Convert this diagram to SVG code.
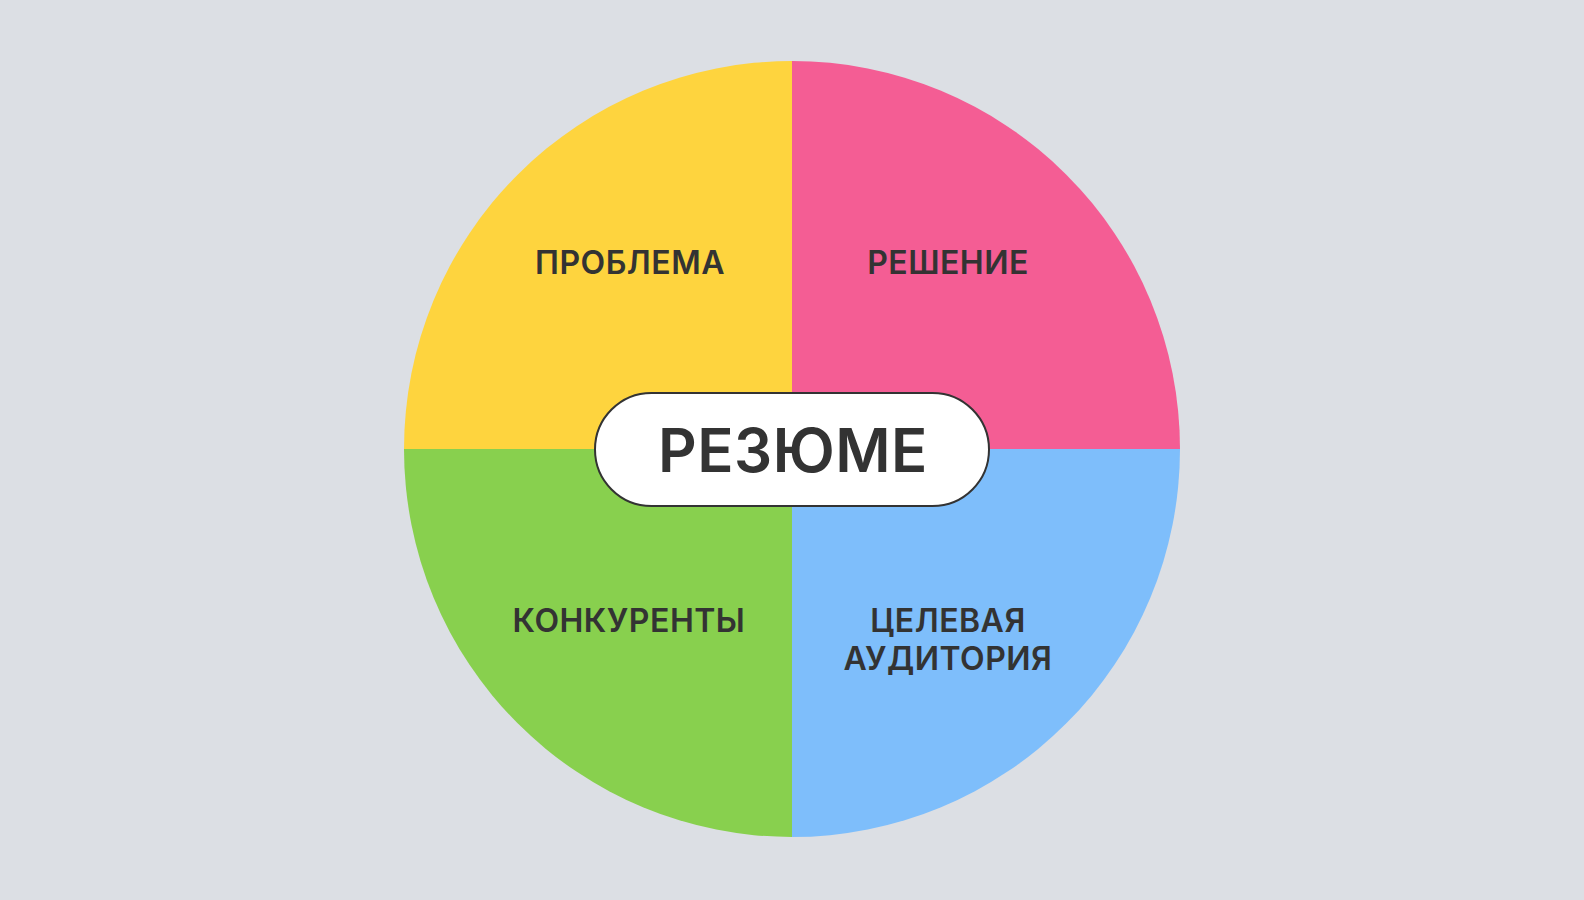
<svg xmlns="http://www.w3.org/2000/svg" width="1584" height="900" viewBox="0 0 1584 900">
<style>
.lbl{font-family:Inter,"Noto Sans","DejaVu Sans",sans-serif;font-weight:600;fill:#333333;text-anchor:middle}
.q{font-size:32px;letter-spacing:0.5px}
.c{font-size:60px;letter-spacing:0.5px}
</style>
<rect x="0" y="0" width="1584" height="900" fill="#DCDFE4"/>
<g id="problem">
<path d="M792 449 L404 449 A388 388 0 0 1 792 61 Z" fill="#FED43E"/>
<text class="lbl q" x="630" y="274">ПРОБЛЕМА</text>
</g>
<g id="solution">
<path d="M792 449 L792 61 A388 388 0 0 1 1180 449 Z" fill="#F45D94"/>
<text class="lbl q" x="948" y="274">РЕШЕНИЕ</text>
</g>
<g id="competitors">
<path d="M792 449 L792 837 A388 388 0 0 1 404 449 Z" fill="#88D04E"/>
<text class="lbl q" x="629" y="632">КОНКУРЕНТЫ</text>
</g>
<g id="audience">
<path d="M792 449 L1180 449 A388 388 0 0 1 792 837 Z" fill="#7EBEFB"/>
<text class="lbl q" x="948" y="632">ЦЕЛЕВАЯ</text>
<text class="lbl q" x="948" y="670">АУДИТОРИЯ</text>
</g>
<g id="summary">
<rect x="595" y="393" width="394" height="113" rx="56.5" fill="#FFFFFF" stroke="#333333" stroke-width="2"/>
<text class="lbl c" x="793" y="472">РЕЗЮМЕ</text>
</g>
<g id="connectors"></g>
</svg>
